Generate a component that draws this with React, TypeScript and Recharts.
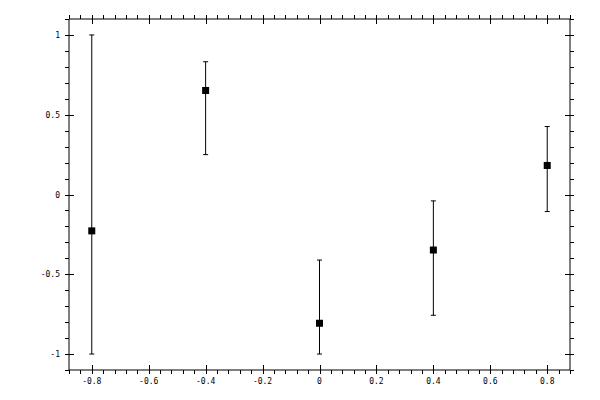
import {
  ScatterChart,
  Scatter,
  XAxis,
  YAxis,
  ErrorBar,
} from "recharts";

const xValues = [-0.8, -0.4, 0, 0.4, 0.8];
const yValues = [-0.228, 0.652, -0.807, -0.348, 0.182];
const yLow = [-1.0, 0.25, -1.0, -0.757, -0.107];
const yHigh = [1.0, 0.832, -0.411, -0.04, 0.426];

const xMajorTicks = [-0.8, -0.6, -0.4, -0.2, 0, 0.2, 0.4, 0.6, 0.8];
const xTickLabels = ["-0.8", "-0.6", "-0.4", "-0.2", "0", "0.2", "0.4", "0.6", "0.8"];
const yMajorTicks = [-1, -0.5, 0, 0.5, 1];
const yTickLabels = ["-1", "-0.5", "0", "0.5", "1"];

const X_DOMAIN: [number, number] = [-0.88, 0.88];
const Y_DOMAIN: [number, number] = [-1.1, 1.1];

// minor ticks every 0.04 on x, 0.1 on y
const xAllTicks = Array.from({ length: 45 }, (_, i) => Math.round((-0.88 + i * 0.04) * 100) / 100);
const yAllTicks = Array.from({ length: 23 }, (_, i) => Math.round((-1.1 + i * 0.1) * 10) / 10);

const data = xValues.map((x, i) => ({
  x,
  y: yValues[i],
  err: [yValues[i] - yLow[i], yHigh[i] - yValues[i]],
}));

const FONT = "'DejaVu Sans Mono', monospace";

function findMajor(v: number, majors: number[]) {
  return majors.findIndex((m) => Math.abs(m - v) < 1e-6);
}

function makeXTick(side: "bottom" | "top") {
  return (props: any) => {
    const { x, y, payload } = props;
    const idx = findMajor(payload.value, xMajorTicks);
    const dir = side === "bottom" ? 1 : -1;
    const xx = Math.round(x) + 0.5;
    return (
      <g>
        {idx >= 0 ? (
          <line x1={xx} x2={xx} y1={y - dir * 5} y2={y + dir * 4} stroke="#000" />
        ) : (
          <line x1={xx} x2={xx} y1={y} y2={y + dir * 4} stroke="#000" />
        )}
        {idx >= 0 && side === "bottom" && (
          <text x={x} y={y + 14} textAnchor="middle" fontSize={8} fontFamily={FONT} fill="#000">
            {xTickLabels[idx]}
          </text>
        )}
      </g>
    );
  };
}

function makeYTick(side: "left" | "right") {
  return (props: any) => {
    const { x, y, payload } = props;
    const idx = findMajor(payload.value, yMajorTicks);
    const dir = side === "left" ? -1 : 1;
    const yy = Math.round(y) + 0.5;
    return (
      <g>
        {idx >= 0 ? (
          <line x1={x - dir * 5} x2={x + dir * 4} y1={yy} y2={yy} stroke="#000" />
        ) : (
          <line x1={x} x2={x + dir * 4} y1={yy} y2={yy} stroke="#000" />
        )}
        {idx >= 0 && side === "left" && (
          <text x={x - 9} y={y + 3} textAnchor="end" fontSize={8} fontFamily={FONT} fill="#000">
            {yTickLabels[idx]}
          </text>
        )}
      </g>
    );
  };
}

const SquareDot = (props: any) => {
  const { cx, cy } = props;
  if (cx == null || cy == null) return null;
  return <rect x={cx - 3.5} y={cy - 3.5} width={7} height={7} fill="#000" />;
};

export default function App() {
  return (
    <div style={{ position: "absolute", left: 0, top: 0, background: "#fff" }}>
      <ScatterChart
        width={600}
        height={400}
        margin={{ top: 18, right: 29, bottom: 0, left: 0 }}
      >
        <XAxis
          type="number"
          dataKey="x"
          domain={X_DOMAIN}
          ticks={xAllTicks}
          interval={0}
          allowDataOverflow
          height={30}
          tickSize={0}
          tickMargin={0}
          tickLine={false}
          axisLine={{ stroke: "#000" }}
          tick={makeXTick("bottom")}
        />
        <XAxis
          xAxisId="top"
          orientation="top"
          type="number"
          dataKey="x"
          domain={X_DOMAIN}
          ticks={xAllTicks}
          interval={0}
          allowDataOverflow
          height={1}
          tickSize={0}
          tickMargin={0}
          tickLine={false}
          axisLine={{ stroke: "#000" }}
          tick={makeXTick("top")}
        />
        <YAxis
          type="number"
          dataKey="y"
          domain={Y_DOMAIN}
          ticks={yAllTicks}
          interval={0}
          allowDataOverflow
          width={69}
          tickSize={0}
          tickMargin={0}
          tickLine={false}
          axisLine={{ stroke: "#000" }}
          tick={makeYTick("left")}
        />
        <YAxis
          yAxisId="right"
          orientation="right"
          type="number"
          domain={Y_DOMAIN}
          ticks={yAllTicks}
          interval={0}
          allowDataOverflow
          width={1}
          tickSize={0}
          tickMargin={0}
          tickLine={false}
          axisLine={{ stroke: "#000" }}
          tick={makeYTick("right")}
        />
        <Scatter data={data} dataKey="y" isAnimationActive={false} shape={SquareDot}>
          <ErrorBar
            dataKey="err"
            direction="y"
            width={2.5}
            stroke="#000"
            strokeWidth={1}
            isAnimationActive={false}
          />
        </Scatter>
      </ScatterChart>
    </div>
  );
}
